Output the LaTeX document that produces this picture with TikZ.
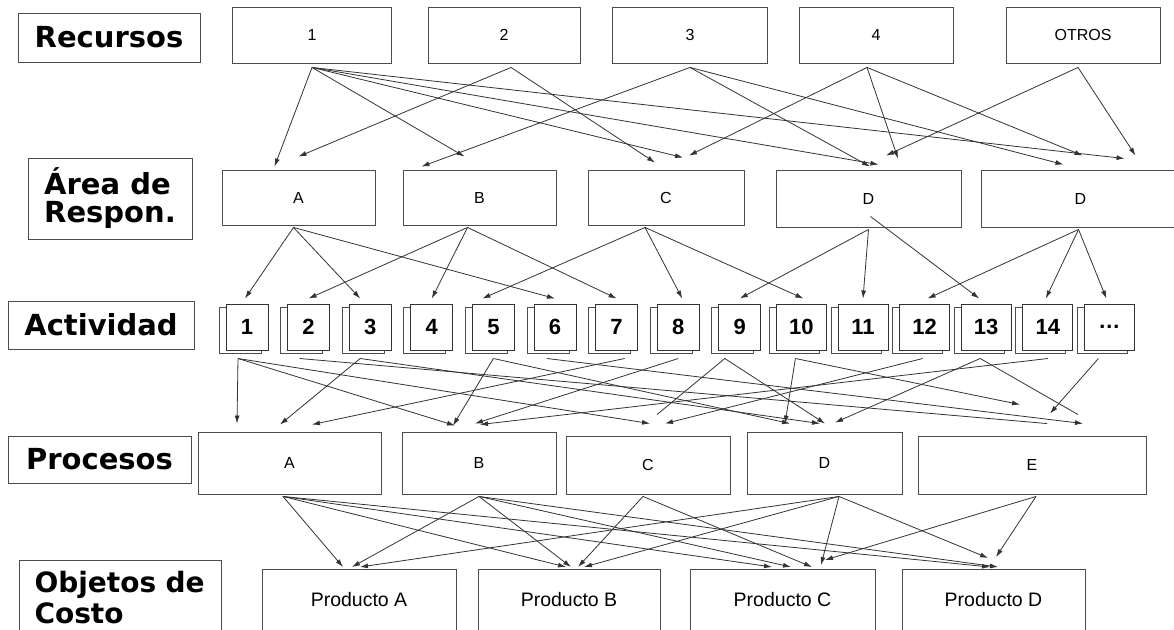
\documentclass[tikz,border=0pt]{standalone}
\usepackage{fontspec}
\setmainfont{Liberation Sans}
\newfontfamily\rotulofont{DejaVu Sans}
\usetikzlibrary{arrows.meta, shadows}

\begin{document}
\begin{tikzpicture}[x=1pt, y=-1pt,
  rotulo/.style={draw=black!70, line width=1pt, inner sep=0pt,
    font=\rotulofont\bfseries\fontsize{29}{28}\selectfont},
  caja/.style={draw=black!70, line width=0.9pt, inner sep=0pt,
    font=\fontsize{16}{19}\selectfont},
  prod/.style={caja, anchor=north, text height=37pt, text depth=50pt,
    font=\fontsize{19.5}{22}\selectfont},
  act/.style={draw=black!80, line width=1pt, fill=white, inner sep=0pt,
    minimum height=46pt, font=\bfseries\fontsize{22}{24}\selectfont,
    copy shadow={shadow xshift=-7pt, shadow yshift=-3pt, draw=black!70, fill=white}},
  flecha/.style={-{Latex[length=8pt,width=5pt]}, draw=black!80, line width=0.8pt},
  linea/.style={draw=black!80, line width=0.8pt}]

\fill[white] (0,0) rectangle (1174,629);
\useasboundingbox (0,0) rectangle (1174,629);

% rotulos de la izquierda
\node[rotulo, minimum width=182pt, minimum height=49pt] (recursos) at (109,37.5) {Recursos};
\node[rotulo, minimum width=164pt, minimum height=81pt, align=left] (area) at (110,198.5) {Área de\\Respon.};
\node[rotulo, minimum width=186pt, minimum height=48pt] (actividad) at (101,325) {Actividad};
\node[rotulo, minimum width=183pt, minimum height=47pt] (procesos) at (99.5,459.5) {Procesos};
\node[rotulo, anchor=north west, minimum height=74pt, text width=172pt, inner xsep=15pt, align=left,
  font=\rotulofont\bfseries\fontsize{28}{31}\selectfont] (objetos) at (19,560) {Objetos de\\Costo};

% recursos
\node[caja, minimum width=159pt, minimum height=56pt] (r1) at (312,35)  {1};
\node[caja, minimum width=152pt, minimum height=56pt] (r2) at (504,35)  {2};
\node[caja, minimum width=155pt, minimum height=56pt] (r3) at (690,35)  {3};
\node[caja, minimum width=154pt, minimum height=56pt] (r4) at (876,35)  {4};
\node[caja, minimum width=154pt, minimum height=56pt] (r5) at (1083,35) {OTROS};

% areas de responsabilidad
\node[caja, minimum width=153pt, minimum height=55pt] (areaA) at (298.5,197.5) {A};
\node[caja, minimum width=153pt, minimum height=55pt] (areaB) at (479.5,197.5) {B};
\node[caja, minimum width=156pt, minimum height=55pt] (areaC) at (666,197.5)   {C};
\node[caja, minimum width=185pt, minimum height=57pt] (areaD) at (868.5,198.5) {D};
\node[caja, minimum width=199pt, minimum height=57pt] (areaE) at (1080.5,198.5) {D};

% actividades
\foreach \etq/\w [count=\i] in {1/42,2/42,3/42,4/42,5/42,6/42,7/42,8/42,9/42,10/50,11/50,12/50,13/50,14/50,\ldots/50}
  \node[act, minimum width=\w pt] (a\i) at ({247+61.6*(\i-1)},327) {\etq};

% procesos
\node[caja, minimum width=183pt, minimum height=62pt] (pA) at (289.5,463) {A};
\node[caja, minimum width=154pt, minimum height=62pt] (pB) at (479,463)   {B};
\node[caja, minimum width=164pt, minimum height=58pt] (pC) at (648,465)   {C};
\node[caja, minimum width=155pt, minimum height=62pt] (pD) at (824.5,463) {D};
\node[caja, minimum width=228pt, minimum height=58pt] (pE) at (1032,465)  {E};

% productos
\node[prod, minimum width=194pt] (prA) at (359,569)   {Producto A};
\node[prod, minimum width=182pt] (prB) at (569,569)   {Producto B};
\node[prod, minimum width=185pt] (prC) at (782.5,569) {Producto C};
\node[prod, minimum width=183pt] (prD) at (993.5,569) {Producto D};

% recursos -> areas
\draw[flecha] ([yshift=-4pt]r1.south) -- ([xshift=-24pt,yshift=3pt]areaA.north);
\draw[flecha] ([yshift=-4pt]r1.south) -- ([xshift=-15pt,yshift=13pt]areaB.north);
\draw[flecha] ([yshift=-4pt]r1.south) -- ([xshift=17pt,yshift=12pt]areaC.north);
\draw[flecha] ([yshift=-4pt]r1.south) -- ([xshift=10pt,yshift=5pt]areaD.north);
\draw[flecha] ([yshift=-4pt]r1.south) -- ([xshift=44pt,yshift=11pt]areaE.north);
\draw[flecha] ([xshift=7pt,yshift=-4pt]r2.south) -- ([yshift=13pt]areaA.north);
\draw[flecha] ([xshift=7pt,yshift=-4pt]r2.south) -- ([xshift=-11pt,yshift=7pt]areaC.north);
\draw[flecha] ([yshift=-4pt]r3.south) -- ([xshift=-58pt,yshift=3pt]areaB.north);
\draw[flecha] ([yshift=-4pt]r3.south) -- ([xshift=1.5pt,yshift=3pt]areaD.north);
\draw[flecha] ([yshift=-4pt]r3.south) -- ([xshift=-17pt,yshift=5pt]areaE.north);
\draw[flecha] ([xshift=-9pt,yshift=-4pt]r4.south) -- ([xshift=23pt,yshift=14pt]areaC.north);
\draw[flecha] ([xshift=-9pt,yshift=-4pt]r4.south) -- ([xshift=29.5pt,yshift=11pt]areaD.north);
\draw[flecha] ([xshift=-9pt,yshift=-4pt]r4.south) -- ([xshift=2pt,yshift=14pt]areaE.north);
\draw[flecha] ([xshift=-5pt,yshift=-4pt]r5.south) -- ([xshift=17.5pt,yshift=14pt]areaD.north);
\draw[flecha] ([xshift=-5pt,yshift=-4pt]r5.south) -- ([xshift=55pt,yshift=14pt]areaE.north);

% areas -> actividades
\draw[flecha] ([xshift=-5pt,yshift=-2pt]areaA.south) -- ([xshift=-2pt,yshift=5pt]a1.north);
\draw[flecha] ([xshift=-5pt,yshift=-2pt]areaA.south) -- ([xshift=-10pt,yshift=5pt]a3.north);
\draw[flecha] ([xshift=-5pt,yshift=-2pt]areaA.south) -- ([yshift=5pt]a6.north);
\draw[flecha] ([xshift=-12pt,yshift=-2pt]areaB.south) -- ([yshift=5pt]a2.north);
\draw[flecha] ([xshift=-12pt,yshift=-2pt]areaB.south) -- ([yshift=5pt]a4.north);
\draw[flecha] ([xshift=-12pt,yshift=-2pt]areaB.south) -- ([yshift=5pt]a7.north);
\draw[flecha] ([xshift=-21pt,yshift=-2pt]areaC.south) -- ([xshift=-11pt,yshift=5pt]a5.north);
\draw[flecha] ([xshift=-21pt,yshift=-2pt]areaC.south) -- ([xshift=4pt,yshift=5pt]a8.north);
\draw[flecha] ([xshift=-21pt,yshift=-2pt]areaC.south) -- ([xshift=2pt,yshift=5pt]a10.north);
\draw[flecha] ([yshift=-2pt]areaD.south) -- ([yshift=5pt]a9.north);
\draw[flecha] ([yshift=-2pt]areaD.south) -- ([yshift=5pt]a11.north);
\draw[flecha] ([xshift=2pt,yshift=-18pt]areaD.center) -- ([xshift=-7pt,yshift=5pt]a13.north);
\draw[flecha] ([xshift=-2pt,yshift=-2pt]areaE.south) -- ([xshift=3pt,yshift=5pt]a12.north);
\draw[flecha] ([xshift=-2pt,yshift=-2pt]areaE.south) -- ([xshift=-2pt,yshift=5pt]a14.north);
\draw[flecha] ([xshift=-2pt,yshift=-2pt]areaE.south) -- ([xshift=-3pt,yshift=5pt]a15.north);

% actividades -> procesos
\draw[flecha] ([xshift=-9pt,yshift=-8pt]a1.south) -- ([xshift=-52.5pt,yshift=8pt]pA.north);
\draw[flecha] ([xshift=-9pt,yshift=-8pt]a1.south) -- ([xshift=-24pt,yshift=6pt]pB.north);
\draw[flecha] ([xshift=-9pt,yshift=-8pt]a1.south) -- ([xshift=2pt,yshift=12pt]pC.north);
\draw[linea]  ([xshift=-9pt,yshift=-8pt]a2.south) -- ([xshift=15pt,yshift=12pt]pE.north);
\draw[flecha] ([xshift=-10pt,yshift=-8pt]a3.south) -- ([xshift=-9.5pt,yshift=7pt]pA.north);
\draw[flecha] ([xshift=-10pt,yshift=-8pt]a3.south) -- ([xshift=-4.5pt,yshift=8pt]pD.north);
\draw[flecha] ([yshift=-8pt]a5.south) -- ([xshift=-26pt,yshift=6pt]pB.north);
\draw[flecha] ([yshift=-8pt]a5.south) -- ([xshift=-34.5pt,yshift=8pt]pD.north);
\draw[flecha] ([xshift=-8pt,yshift=-8pt]a6.south) -- ([xshift=51pt,yshift=12pt]pE.north);
\draw[flecha] ([xshift=8pt,yshift=-8pt]a7.south) -- ([xshift=22.5pt,yshift=7pt]pA.north);
\draw[flecha] ([yshift=-8pt]a8.south) -- ([xshift=-4pt,yshift=8pt]pB.north);
\draw[linea]  ([xshift=-15pt,yshift=-8pt]a9.south) -- ([xshift=9pt,yshift=21pt]pC.north);
\draw[flecha] ([xshift=-15pt,yshift=-8pt]a9.south) -- ([xshift=0.5pt,yshift=8pt]pD.north);
\draw[flecha] ([xshift=-6pt,yshift=-8pt]a10.south) -- ([xshift=-39.5pt,yshift=8pt]pD.north);
\draw[flecha] ([xshift=-6pt,yshift=-8pt]a10.south) -- ([xshift=-12pt,yshift=31pt]pE.north);
\draw[flecha] ([xshift=-2pt,yshift=-8pt]a12.south) -- ([xshift=17pt,yshift=12pt]pC.north);
\draw[flecha] ([xshift=-6pt,yshift=-8pt]a13.south) -- ([xshift=10.5pt,yshift=9pt]pD.north);
\draw[linea]  ([xshift=-6pt,yshift=-8pt]a13.south) -- ([xshift=46pt,yshift=21pt]pE.north);
\draw[flecha] ([yshift=-8pt]a14.south) -- ([xshift=1pt,yshift=7pt]pB.north);
\draw[flecha] ([xshift=-11pt,yshift=-8pt]a15.south) -- ([xshift=18pt,yshift=22pt]pE.north);

% procesos -> productos
\draw[flecha] ([xshift=-6.5pt,yshift=-2pt]pA.south) -- ([xshift=-16pt,yshift=2pt]prA.north);
\draw[flecha] ([xshift=-6.5pt,yshift=-2pt]pA.south) -- ([xshift=-3pt,yshift=2pt]prB.north);
\draw[flecha] ([xshift=-6.5pt,yshift=-2pt]pA.south) -- ([xshift=-10.5pt,yshift=2pt]prC.north);
\draw[flecha] ([xshift=-6.5pt,yshift=-2pt]pA.south) -- ([xshift=-3.5pt,yshift=2pt]prD.north);
\draw[flecha] ([yshift=-2pt]pB.south) -- ([xshift=-7pt,yshift=2pt]prA.north);
\draw[flecha] ([yshift=-2pt]pB.south) -- ([xshift=2pt,yshift=2pt]prB.north);
\draw[flecha] ([yshift=-2pt]pB.south) -- ([xshift=8.5pt,yshift=2pt]prC.north);
\draw[flecha] ([yshift=-2pt]pB.south) -- ([xshift=4.5pt,yshift=2pt]prD.north);
\draw[flecha] ([xshift=-5pt,yshift=-2pt]pC.south) -- ([xshift=9pt,yshift=2pt]prB.north);
\draw[flecha] ([xshift=-5pt,yshift=-2pt]pC.south) -- ([xshift=29.5pt,yshift=2pt]prC.north);
\draw[flecha] ([xshift=14.5pt,yshift=-2pt]pD.south) -- ([xshift=1pt,yshift=2pt]prA.north);
\draw[flecha] ([xshift=14.5pt,yshift=-2pt]pD.south) -- ([xshift=15pt,yshift=2pt]prB.north);
\draw[flecha] ([xshift=14.5pt,yshift=-2pt]pD.south) -- ([xshift=38.5pt,yshift=4pt]prC.north);
\draw[flecha] ([xshift=14.5pt,yshift=-2pt]pD.south) -- ([xshift=-5.5pt,yshift=11pt]prD.north);
\draw[flecha] ([xshift=4pt,yshift=-2pt]pE.south) -- ([xshift=42.5pt,yshift=9pt]prC.north);
\draw[flecha] ([xshift=4pt,yshift=-2pt]pE.south) -- ([xshift=2.5pt,yshift=12pt]prD.north);
\end{tikzpicture}
\end{document}
